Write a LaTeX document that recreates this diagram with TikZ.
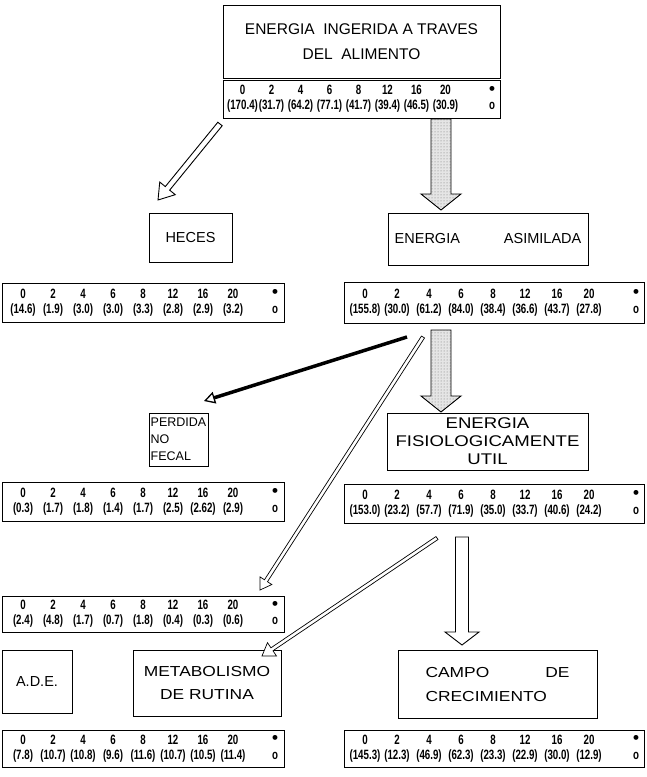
\documentclass[tikz,border=0pt]{standalone}
\usepackage{fontspec}
\setmainfont{Liberation Sans}
\newfontfamily\wide[FakeStretch=1.2]{Liberation Sans}
\newfontfamily\narrow[FakeStretch=0.72]{Liberation Sans}
\newfontfamily\plain{Liberation Sans}
\usepackage{array}
\usetikzlibrary{arrows.meta,calc,patterns}

\newcommand\fb{\raisebox{0.5pt}[0pt][0pt]{\plain\fontsize{17}{0}\selectfont\textbullet}}
\newcommand\ob{o}
% data table: #1 column width, #2 last column width, #3 top row, #4 bottom row
\newcommand\dtab[4]{{\setlength\tabcolsep{0pt}%
 \begin{tabular}{*{8}{w{c}{#1}}w{r}{#2}}#3\\#4\end{tabular}}}
% block arrow between two named coordinates
\newcommand\fatarrow[6][]{%
 \path (#2); \pgfgetlastxy{\fax}{\fay}%
 \path (#3); \pgfgetlastxy{\fbx}{\fby}%
 \pgfmathsetmacro\fang{atan2((\fby)-(\fay),(\fbx)-(\fax))}%
 \pgfmathsetmacro\flen{veclen((\fbx)-(\fax),(\fby)-(\fay))}%
 \pgfmathsetmacro\fneck{\flen-#6}%
 \begin{scope}[shift={(#2)},rotate=\fang]
  \draw[#1] (0,-#4) -- (\fneck,-#4) -- (\fneck,-#5) -- (\flen,0) -- (\fneck,#5) -- (\fneck,#4) -- (0,#4) -- cycle;
 \end{scope}}

\begin{document}
\begin{tikzpicture}[x=1pt,y=1pt,
  box/.style={draw, line width=1pt, inner sep=0pt, align=center},
  dbox/.style={draw, line width=1pt, inner sep=0pt, font=\narrow\bfseries\fontsize{13.5}{15}\selectfont},
  hollow/.style={fill=white, line width=0.9pt},
  thinhollow/.style={fill=white, line width=0.7pt},
  shaded/.style={preaction={fill=black!10}, pattern=dots, pattern color=black!55, line width=0.9pt}]
\useasboundingbox (0,0) rectangle (646,-777);

% ---- level 1
\node[box, minimum width=277, minimum height=73, font=\fontsize{15.5}{25}\selectfont] (ing) at (361.5,-41.5)
  {ENERGIA\ \ INGERIDA A TRAVES\\DEL\ \ ALIMENTO};
\node[dbox, minimum width=277, minimum height=38] (ingd) at (361.5,-99)
  {\dtab{29pt}{35pt}{0&2&4&6&8&12&16&20&\fb}{(170.4)&(31.7)&(64.2)&(77.1)&(41.7)&(39.4)&(46.5)&(30.9)&\ob}};

% ---- level 2
\node[box, minimum width=83, minimum height=49, font=\fontsize{14.5}{17}\selectfont] (hec) at (190.5,-237.5) {HECES};
\node[dbox, minimum width=282, minimum height=39] (hecd) at (143,-302.5)
  {\dtab{30pt}{30pt}{0&2&4&6&8&12&16&20&\fb}{(14.6)&(1.9)&(3.0)&(3.0)&(3.3)&(2.8)&(2.9)&(3.2)&\ob}};
\node[box, minimum width=200, minimum height=52, font=\fontsize{14.5}{17}\selectfont] (asi) at (488,-239)
  {ENERGIA\hspace{44pt}ASIMILADA};
\node[dbox, minimum width=300, minimum height=41] (asid) at (494,-302.5)
  {\dtab{32pt}{34pt}{0&2&4&6&8&12&16&20&\fb}{(155.8)&(30.0)&(61.2)&(84.0)&(38.4)&(36.6)&(43.7)&(27.8)&\ob}};

% ---- level 3
\node[box, minimum width=59, minimum height=53, align=left, font=\fontsize{12.5}{17}\selectfont] (per) at (178.5,-439.5)
  {PERDIDA\\NO\\FECAL};
\node[dbox, minimum width=282, minimum height=39] (perd) at (143,-501.5)
  {\dtab{30pt}{30pt}{0&2&4&6&8&12&16&20&\fb}{(0.3)&(1.7)&(1.8)&(1.4)&(1.7)&(2.5)&(2.62)&(2.9)&\ob}};
\node[box, minimum width=201, minimum height=57, font=\wide\fontsize{15.5}{18}\selectfont] (fis) at (487.5,-441.5)
  {ENERGIA\\FISIOLOGICAMENTE\\UTIL};
\node[dbox, minimum width=300, minimum height=39] (fisd) at (494,-503.5)
  {\dtab{32pt}{34pt}{0&2&4&6&8&12&16&20&\fb}{(153.0)&(23.2)&(57.7)&(71.9)&(35.0)&(33.7)&(40.6)&(24.2)&\ob}};

% ---- level 4
\node[dbox, minimum width=282, minimum height=36] (aded) at (143,-614)
  {\dtab{30pt}{30pt}{0&2&4&6&8&12&16&20&\fb}{(2.4)&(4.8)&(1.7)&(0.7)&(1.8)&(0.4)&(0.3)&(0.6)&\ob}};
\node[box, minimum width=70, minimum height=63, font=\fontsize{14.5}{17}\selectfont] (ade) at (37,-681.5) {A.D.E.};
\node[box, minimum width=148, minimum height=66, font=\wide\fontsize{14.5}{23}\selectfont] (met) at (207,-683)
  {METABOLISMO\\DE RUTINA};
\node[dbox, minimum width=282, minimum height=37] (metd) at (143,-748.5)
  {\dtab{30pt}{30pt}{0&2&4&6&8&12&16&20&\fb}{(7.8)&(10.7)&(10.8)&(9.6)&(11.6)&(10.7)&(10.5)&(11.4)&\ob}};
\node[box, minimum width=199, minimum height=68, align=left, font=\wide\fontsize{14.5}{24}\selectfont] (cam) at (497.5,-684)
  {CAMPO\hspace{56pt}DE\\CRECIMIENTO};
\node[dbox, minimum width=300, minimum height=37] (camd) at (494,-748.5)
  {\dtab{32pt}{34pt}{0&2&4&6&8&12&16&20&\fb}{(145.3)&(12.3)&(46.9)&(62.3)&(23.3)&(22.9)&(30.0)&(12.9)&\ob}};

% ---- connectors
\coordinate (a1s) at (220,-124);  \coordinate (a1e) at (158,-200);
\coordinate (a2s) at (441,-119);  \coordinate (a2e) at (441,-210);
\coordinate (a3s) at (407,-337);  \coordinate (a3e) at (204,-401);
\coordinate (a4s) at (423,-337);  \coordinate (a4e) at (260,-590);
\coordinate (a5s) at (441,-330);  \coordinate (a5e) at (441,-412);
\coordinate (a6s) at (437,-538);  \coordinate (a6e) at (262,-656);
\coordinate (a7s) at (462,-537);  \coordinate (a7e) at (462,-645);

\fatarrow[hollow]{a1s}{a1e}{2.8}{10}{15}
\fatarrow[shaded]{a2s}{a2e}{10}{20}{16}
\draw[line width=3.5pt, -{Triangle[open, length=11pt, width=12pt, line width=1.3pt]}] (a3s) -- (a3e);
\fatarrow[thinhollow]{a4s}{a4e}{1.8}{7}{11}
\fatarrow[shaded]{a5s}{a5e}{10}{20}{16}
\fatarrow[thinhollow]{a6s}{a6e}{1.8}{8}{12}
\fatarrow[hollow]{a7s}{a7e}{6.5}{17}{13}
\end{tikzpicture}
\end{document}
